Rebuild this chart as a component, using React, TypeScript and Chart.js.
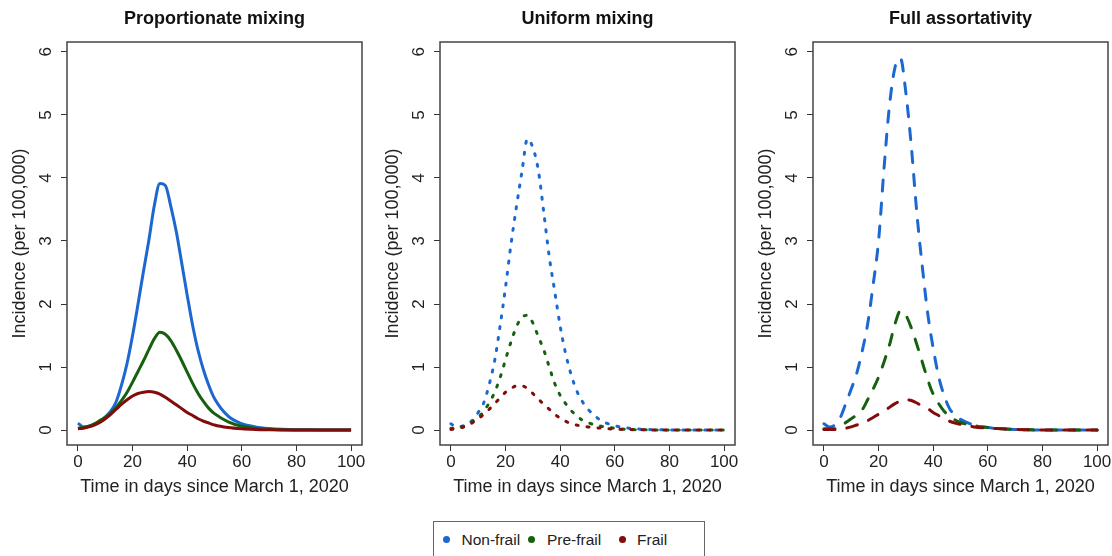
import React, { useEffect, useRef } from "react";
import { Chart, registerables } from "chart.js";

Chart.register(...registerables);

// ---------- data ----------
const days = [
  0, 2, 4, 6, 8, 10, 12, 14, 16, 18, 20, 22, 24, 26, 28, 30, 32, 34, 36, 38, 40, 42, 44, 46, 48, 50,
  55, 60, 65, 70, 75, 80, 85, 90, 95, 100,
];

const xTicks = [0, 20, 40, 60, 80, 100];
const yTicks = [0, 1, 2, 3, 4, 5, 6];

const panelTitles = ["Proportionate mixing", "Uniform mixing", "Full assortativity"];
const seriesNames = ["Non-frail", "Pre-frail", "Frail"];

// Proportionate mixing
const propNonFrail = [
  0.11, 0.05, 0.06, 0.09, 0.14, 0.21, 0.3, 0.45, 0.72, 1.06, 1.5, 2.0, 2.52, 3.02, 3.57, 3.91, 3.88, 3.55, 3.15, 2.65,
  2.14, 1.66, 1.26, 0.95, 0.7, 0.5, 0.22, 0.1, 0.05, 0.025, 0.012, 0.006, 0.003, 0.001, 0, 0,
];
const propPreFrail = [
  0.03, 0.04, 0.06, 0.1, 0.15, 0.2, 0.27, 0.36, 0.47, 0.6, 0.76, 0.93, 1.1, 1.28, 1.45, 1.55, 1.52, 1.42, 1.27, 1.1,
  0.92, 0.74, 0.58, 0.45, 0.34, 0.26, 0.13, 0.06, 0.03, 0.012, 0.005, 0.002, 0, 0, 0, 0,
];
const propFrail = [
  0.02, 0.03, 0.05, 0.08, 0.12, 0.18, 0.25, 0.33, 0.41, 0.48, 0.54, 0.58, 0.6, 0.61, 0.6, 0.57, 0.52, 0.46, 0.4, 0.34,
  0.28, 0.23, 0.18, 0.14, 0.11, 0.08, 0.04, 0.02, 0.01, 0.005, 0.002, 0, 0, 0, 0, 0,
];

// Uniform mixing
const unifNonFrail = [
  0.1, 0.05, 0.06, 0.1, 0.16, 0.28, 0.43, 0.72, 1.1, 1.65, 2.27, 2.95, 3.55, 4.1, 4.62, 4.48, 4.12, 3.45, 2.75, 2.2,
  1.65, 1.21, 0.88, 0.63, 0.46, 0.34, 0.15, 0.07, 0.03, 0.012, 0.005, 0.002, 0, 0, 0, 0,
];
const unifPreFrail = [
  0.03, 0.03, 0.05, 0.09, 0.14, 0.2, 0.3, 0.43, 0.6, 0.83, 1.12, 1.4, 1.64, 1.79, 1.82, 1.7, 1.48, 1.27, 1.0, 0.74,
  0.55, 0.42, 0.31, 0.23, 0.16, 0.12, 0.06, 0.03, 0.01, 0.005, 0, 0, 0, 0, 0, 0,
];
const unifFrail = [
  0.01, 0.02, 0.04, 0.07, 0.12, 0.18, 0.25, 0.33, 0.42, 0.51, 0.6, 0.66, 0.7, 0.7, 0.66, 0.58, 0.49, 0.41, 0.33, 0.25,
  0.19, 0.14, 0.1, 0.08, 0.06, 0.05, 0.03, 0.015, 0.008, 0.004, 0, 0, 0, 0, 0, 0,
];

// Full assortativity
const assortNonFrail = [
  0.1, 0.05, 0.08, 0.2, 0.42, 0.65, 0.9, 1.25, 1.68, 2.3, 3.0, 4.15, 5.15, 5.75, 5.9, 5.35, 4.5, 3.45, 2.6, 1.85,
  1.3, 0.85, 0.55, 0.34, 0.24, 0.17, 0.08, 0.04, 0.02, 0.01, 0.005, 0, 0, 0, 0, 0,
];
const assortPreFrail = [
  0.02, 0.02, 0.02, 0.05, 0.12, 0.18, 0.24, 0.32, 0.48, 0.65, 0.84, 1.08, 1.35, 1.68, 1.89, 1.82, 1.62, 1.36, 1.08, 0.8,
  0.57, 0.42, 0.3, 0.22, 0.16, 0.12, 0.07, 0.04, 0.02, 0.01, 0.005, 0, 0, 0, 0, 0,
];
const assortFrail = [
  0.01, 0.01, 0.01, 0.02, 0.03, 0.05, 0.08, 0.11, 0.15, 0.2, 0.25, 0.3, 0.36, 0.42, 0.46, 0.48, 0.47, 0.43, 0.38, 0.34,
  0.28, 0.23, 0.18, 0.14, 0.11, 0.09, 0.05, 0.03, 0.02, 0.01, 0.005, 0, 0, 0, 0, 0,
];

// ---------- styles ----------
const FONT = "'Liberation Sans', Arial, Helvetica, sans-serif";
const COLORS = ["#1C68D0", "#16600F", "#820C0C"];
const DASHES: number[][] = [[], [2, 9], [11, 12]];

const CANVAS_W = 366;
const CANVAS_H = 500;
const PANEL_STEP = 373;

type PanelProps = {
  title: string;
  series: number[][];
  dash: number[];
  left: number;
};

function Panel({ title, series, dash, left }: PanelProps) {
  const ref = useRef<HTMLCanvasElement | null>(null);

  useEffect(() => {
    if (!ref.current) return;
    // draw order: frail on top -> dataset index 0 = frail
    const order = [2, 1, 0];
    const datasets = order.map((si) => ({
      label: seriesNames[si],
      data: days.map((d, i) => ({ x: d, y: series[si][i] })),
      borderColor: COLORS[si],
      backgroundColor: COLORS[si],
      borderWidth: 3,
      borderDash: dash,
      borderCapStyle: dash.length ? ("round" as const) : ("butt" as const),
      borderJoinStyle: "round" as const,
      pointRadius: 0,
      fill: false,
      cubicInterpolationMode: "monotone" as const,
    }));

    const boxPlugin = {
      id: "rbox",
      afterDraw(chart: any) {
        const { ctx, chartArea } = chart;
        ctx.save();
        ctx.strokeStyle = "#444";
        ctx.lineWidth = 1.5;
        ctx.strokeRect(chartArea.left, chartArea.top, chartArea.right - chartArea.left, chartArea.bottom - chartArea.top);
        ctx.restore();
      },
    };

    const chart = new Chart(ref.current, {
      type: "line",
      data: { datasets },
      options: {
        responsive: false,
        animation: false,
        devicePixelRatio: 1,
        layout: { padding: { left: 0, right: CANVAS_W - 67 - 295, top: 0, bottom: 0 } },
        plugins: {
          legend: { display: false },
          tooltip: { enabled: false },
          title: {
            display: true,
            text: title,
            fullSize: false,
            color: "#111",
            font: { family: FONT, size: 18, weight: "bold" },
            padding: { top: 8.2, bottom: 12.2 },
          },
        },
        scales: {
          x: {
            type: "linear",
            min: -4,
            max: 104,
            afterBuildTicks: (scale: any) => {
              scale.ticks = xTicks.map((v) => ({ value: v }));
            },
            afterFit: (scale: any) => {
              scale.height = 55;
              scale.paddingLeft = 0;
              scale.paddingRight = 0;
              scale.paddingTop = 0;
              scale.paddingBottom = 0;
            },
            grid: { display: true, drawOnChartArea: false, drawTicks: true, tickLength: 6, color: "#333", lineWidth: 1 },
            border: { display: false },
            ticks: {
              autoSkip: false,
              maxRotation: 0,
              minRotation: 0,
              padding: 1.5,
              color: "#222",
              font: { family: FONT, size: 17 },
            },
            title: {
              display: true,
              text: "Time in days since March 1, 2020",
              color: "#222",
              font: { family: FONT, size: 18 },
              padding: { top: 0, bottom: 2.5 },
            },
          },
          y: {
            type: "linear",
            min: -0.237,
            max: 6.157,
            afterBuildTicks: (scale: any) => {
              scale.ticks = yTicks.map((v) => ({ value: v }));
            },
            afterFit: (scale: any) => {
              scale.width = 67;
              scale.paddingLeft = 0;
              scale.paddingRight = 0;
              scale.paddingTop = 0;
              scale.paddingBottom = 0;
            },
            grid: { display: true, drawOnChartArea: false, drawTicks: true, tickLength: 6, color: "#333", lineWidth: 1 },
            border: { display: false },
            ticks: {
              autoSkip: false,
              minRotation: 90,
              maxRotation: 90,
              crossAlign: "center",
              padding: 10.3,
              color: "#222",
              font: { family: FONT, size: 17 },
            },
            title: {
              display: true,
              text: "Incidence (per 100,000)",
              color: "#222",
              font: { family: FONT, size: 18 },
              padding: { top: 9.2, bottom: 0 },
            },
          },
        },
      },
      plugins: [boxPlugin],
    } as any);

    return () => chart.destroy();
  }, [title, series, dash]);

  return (
    <canvas
      ref={ref}
      width={CANVAS_W}
      height={CANVAS_H}
      style={{ position: "absolute", left, top: 0, width: CANVAS_W, height: CANVAS_H }}
    />
  );
}

function Legend() {
  const items = [
    { dotX: 448, textX: 462 },
    { dotX: 533, textX: 547.5 },
    { dotX: 623.5, textX: 637.5 },
  ];
  return (
    <div
      style={{
        position: "absolute",
        left: 432.5,
        top: 520.5,
        width: 272,
        height: 50,
        border: "1.5px solid #666",
        background: "#fff",
        boxSizing: "border-box",
      }}
    >
      {items.map((it, i) => (
        <React.Fragment key={i}>
          <div
            style={{
              position: "absolute",
              left: it.dotX - 432.5 - 4.5 - 1.5,
              top: 540 - 520.5 - 3.5 - 1.5,
              width: 7,
              height: 7,
              borderRadius: "50%",
              background: COLORS[i],
            }}
          />
          <div
            style={{
              position: "absolute",
              left: it.textX - 432.5 - 1.5,
              top: 540 - 520.5 - 10 - 1.5,
              height: 20,
              lineHeight: "20px",
              fontFamily: FONT,
              fontSize: 15.5,
              color: "#222",
              whiteSpace: "nowrap",
            }}
          >
            {seriesNames[i]}
          </div>
        </React.Fragment>
      ))}
    </div>
  );
}

export default function App() {
  const panels = [
    [propNonFrail, propPreFrail, propFrail],
    [unifNonFrail, unifPreFrail, unifFrail],
    [assortNonFrail, assortPreFrail, assortFrail],
  ];
  return (
    <div
      style={{
        position: "absolute",
        left: 0,
        top: 0,
        width: 1112,
        height: 556,
        overflow: "hidden",
        background: "#fff",
      }}
    >
      {panels.map((s, i) => (
        <Panel key={i} title={panelTitles[i]} series={s} dash={DASHES[i]} left={i * PANEL_STEP} />
      ))}
      <Legend />
    </div>
  );
}
